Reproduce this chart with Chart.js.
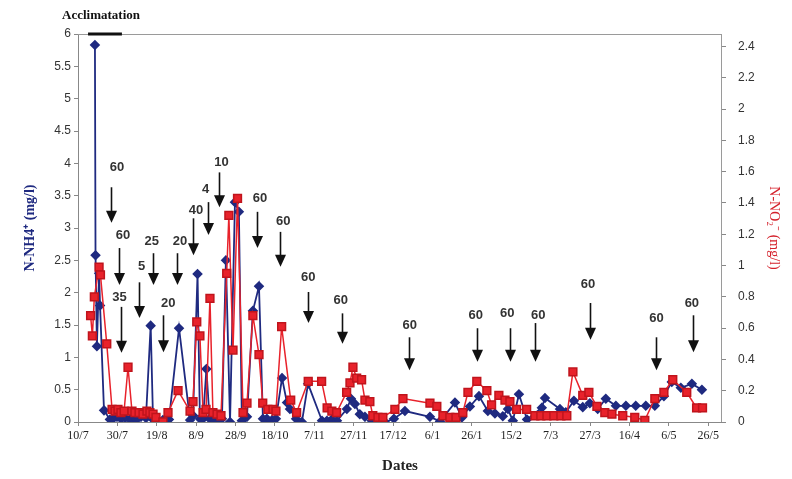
<!DOCTYPE html>
<html lang="en">
<head>
  <meta charset="UTF-8">
  <title>N-NH4+ and N-NO2- over time</title>
  <script src="https://cdn.jsdelivr.net/npm/chart.js@4.4.1/dist/chart.umd.min.js"></script>
  <style>
    body { margin: 0; background: #fff; }
    #wrap { width: 792px; height: 479px; }
  </style>
</head>
<body>
  <div id="wrap"><canvas id="chart" width="792" height="479"></canvas></div>
  <script>
    // days counted from 10/7
    const xTickDays = [0, 20, 40, 60, 80, 100, 120, 140, 160, 180, 200, 220, 240, 260, 280, 300, 320];
    const xTickLabels = ['10/7', '30/7', '19/8', '8/9', '28/9', '18/10', '7/11', '27/11', '17/12', '6/1', '26/1', '15/2', '7/3', '27/3', '16/4', '6/5', '26/5'];
    const rightTicks = [0, 0.2, 0.4, 0.6, 0.8, 1, 1.2, 1.4, 1.6, 1.8, 2, 2.2, 2.4];

    const nh4Days = [8.6, 8.9, 9.6, 10.7, 11.2, 13.2, 16.2, 17.8, 19.8, 21.8, 23.9, 26.4, 27.9, 29.9, 32.0,
      34.5, 36.9, 38.1, 39.6, 43.1, 46.2, 51.3, 56.9, 58.4, 60.7, 61.9, 63.5, 65.2, 66.8, 68.5,
      71.1, 73.1, 75.1, 77.2, 79.7, 81.7, 83.2, 85.8, 88.8, 91.9, 93.9, 95.9, 98.5, 100.5, 103.6,
      106.1, 107.6, 110.7, 113.7, 116.8, 123.9, 126.4, 128.9, 131.5, 136.5, 138.6, 140.6, 143.1, 145.7, 149.2,
      152.3, 155.8, 160.4, 166.0, 178.7, 183.8, 191.4, 194.9, 199.0, 203.6, 208.1, 211.7, 215.7, 218.3, 220.8,
      223.9, 228.0, 235.5, 237.1, 244.7, 247.7, 251.8, 256.3, 259.9, 263.9, 268.0, 273.1, 278.2, 283.2, 288.3,
      292.9, 297.5, 301.5, 306.1, 311.7, 316.8];
    const nh4Values = [5.83, 2.58, 1.17, 2.3, 1.8, 0.18, 0.04, 0.05, 0.08, 0.05, 0.06, 0.04, 0.05, 0.04, 0.08,
      0.06, 1.49, 0.04, 0.05, 0.03, 0.04, 1.45, 0.03, 0.1, 2.29, 0.05, 0.05, 0.82, 0.05, 0.04,
      0.03, 0.05, 2.5, 0.0, 3.4, 3.25, 0.02, 0.08, 1.72, 2.1, 0.05, 0.05, 0.03, 0.05, 0.68,
      0.3, 0.2, 0.05, 0.0, 0.59, 0.02, 0.02, 0.04, 0.02, 0.2, 0.36, 0.28, 0.12, 0.08, 0.02,
      0.01, 0.0, 0.05, 0.17, 0.08, 0.01, 0.3, 0.07, 0.24, 0.4, 0.17, 0.13, 0.09, 0.2, 0.02,
      0.43, 0.04, 0.22, 0.37, 0.2, 0.15, 0.33, 0.23, 0.29, 0.2, 0.36, 0.25, 0.25, 0.25, 0.25,
      0.25, 0.4, 0.62, 0.53, 0.59, 0.5];

    const no2Days = [6.4, 7.3, 8.3, 10.7, 11.4, 14.6, 17.3, 18.8, 20.3, 21.8, 23.4, 25.4, 27.4, 28.9, 31.0,
      33.0, 35.0, 36.5, 38.1, 39.6, 43.1, 45.7, 50.8, 56.9, 58.4, 60.3, 61.9, 63.5, 65.0, 67.0,
      68.5, 70.6, 72.6, 75.5, 76.6, 78.7, 81.0, 83.8, 85.8, 88.8, 91.9, 93.8, 96.4, 99.0, 100.5,
      103.4, 108.0, 111.0, 116.9, 123.7, 126.5, 128.9, 131.3, 136.4, 138.1, 139.6, 141.5, 144.0, 145.7, 148.2,
      149.7, 152.3, 154.8, 160.9, 165.0, 178.7, 182.2, 185.3, 188.8, 191.9, 195.4, 198.0, 202.5, 207.6, 210.0,
      213.7, 216.8, 219.3, 222.7, 227.8, 232.0, 235.0, 238.1, 241.6, 245.2, 248.2, 251.3, 256.3, 259.4, 263.5,
      267.5, 271.1, 276.6, 282.7, 287.8, 292.9, 297.5, 302.0, 309.1, 314.1, 317.1];
    const no2Values = [0.68, 0.55, 0.80, 0.99, 0.94, 0.50, 0.08, 0.07, 0.08, 0.06, 0.07, 0.35, 0.07, 0.06, 0.06,
      0.05, 0.07, 0.06, 0.05, 0.03, 0.0, 0.06, 0.20, 0.07, 0.13, 0.64, 0.55, 0.06, 0.08, 0.79,
      0.06, 0.05, 0.04, 0.95, 1.32, 0.46, 1.43, 0.06, 0.12, 0.68, 0.43, 0.12, 0.08, 0.08, 0.07,
      0.61, 0.14, 0.06, 0.26, 0.26, 0.09, 0.07, 0.06, 0.19, 0.25, 0.35, 0.28, 0.27, 0.14, 0.13,
      0.04, 0.03, 0.03, 0.08, 0.15, 0.12, 0.10, 0.04, 0.03, 0.03, 0.06, 0.19, 0.26, 0.20, 0.11,
      0.17, 0.14, 0.13, 0.08, 0.08, 0.04, 0.04, 0.04, 0.04, 0.04, 0.04, 0.32, 0.17, 0.19, 0.10,
      0.06, 0.05, 0.04, 0.03, 0.01, 0.15, 0.19, 0.27, 0.19, 0.09, 0.09];

    // dosing arrows (left axis units)
    const arrowLabels = ['60', '60', '35', '5', '25', '20', '20', '40', '4', '10', '60', '60', '60', '60', '60', '60', '60', '60', '60', '60', '60'];
    const arrowDays = [17.0, 20.7, 21.8, 31.0, 38.2, 43.0, 50.1, 58.5, 65.8, 71.7, 90.7, 102.5, 116.6, 133.9, 168.2, 202.7, 219.6, 232.0, 259.9, 293.4, 312.3];
    const arrowTops = [3.63, 2.69, 1.78, 2.16, 2.61, 1.65, 2.61, 3.15, 3.40, 3.86, 3.25, 2.94, 2.01, 1.68, 1.31, 1.45, 1.45, 1.53, 1.84, 1.31, 1.65];
    const arrowTips = [3.08, 2.12, 1.07, 1.61, 2.12, 1.08, 2.12, 2.58, 2.89, 3.32, 2.69, 2.40, 1.53, 1.21, 0.80, 0.93, 0.93, 0.93, 1.27, 0.80, 1.08];
    const labelDays = [19.8, 22.9, 21.1, 32.3, 37.4, 45.8, 51.8, 59.9, 64.8, 72.9, 92.4, 104.2, 116.9, 133.4, 168.5, 202.0, 217.9, 233.7, 259.0, 293.7, 311.7];
    const labelY = [3.94, 2.89, 1.92, 2.40, 2.80, 1.84, 2.80, 3.27, 3.60, 4.01, 3.46, 3.10, 2.24, 1.88, 1.50, 1.65, 1.68, 1.65, 2.12, 1.60, 1.84];
    const acclimDays = [5.1, 22.3];

    const navy = '#1f2a80';
    const red = '#e8222b';

    const annotate = {
      id: 'annotate',
      beforeDatasetsDraw(chart) {
        const { ctx, chartArea: a } = chart;
        ctx.save();
        ctx.strokeStyle = '#9a9a9a';
        ctx.lineWidth = 1;
        ctx.beginPath();
        ctx.moveTo(a.left, a.top + 0.5);
        ctx.lineTo(a.right, a.top + 0.5);
        ctx.moveTo(a.right - 0.5, a.top);
        ctx.lineTo(a.right - 0.5, a.bottom);
        ctx.stroke();
        ctx.restore();
      },
      afterDatasetsDraw(chart) {
        const { ctx, scales: { x, y }, chartArea: a } = chart;
        ctx.save();
        // acclimatation period
        ctx.strokeStyle = '#111';
        ctx.lineWidth = 3;
        ctx.beginPath();
        ctx.moveTo(x.getPixelForValue(acclimDays[0]), a.top);
        ctx.lineTo(x.getPixelForValue(acclimDays[1]), a.top);
        ctx.stroke();
        ctx.fillStyle = '#111';
        ctx.font = 'bold 13px "Liberation Serif"';
        ctx.textAlign = 'left';
        ctx.textBaseline = 'middle';
        ctx.fillText('Acclimatation', a.left - 16, a.top - 18);

        ctx.font = 'bold 13px "Liberation Sans"';
        ctx.textAlign = 'center';
        ctx.fillStyle = '#222';
        ctx.strokeStyle = '#111';
        ctx.lineWidth = 1.6;
        arrowDays.forEach((d, i) => {
          const px = Math.round(x.getPixelForValue(d)) + 0.5;
          const top = y.getPixelForValue(arrowTops[i]);
          const tip = y.getPixelForValue(arrowTips[i]);
          ctx.beginPath();
          ctx.moveTo(px, top);
          ctx.lineTo(px, tip - 10);
          ctx.stroke();
          ctx.beginPath();
          ctx.moveTo(px - 5.5, tip - 12);
          ctx.lineTo(px + 5.5, tip - 12);
          ctx.lineTo(px, tip);
          ctx.closePath();
          ctx.fillStyle = '#111';
          ctx.fill();
          ctx.fillStyle = '#333';
          ctx.fillText(arrowLabels[i], x.getPixelForValue(labelDays[i]), y.getPixelForValue(labelY[i]));
        });
        ctx.restore();
      }
    };

    new Chart(document.getElementById('chart'), {
      type: 'line',
      data: {
        datasets: [
          {
            label: 'N-NO2-',
            data: no2Days.map((d, i) => ({ x: d, y: no2Values[i] })),
            yAxisID: 'y1',
            borderColor: red,
            backgroundColor: red,
            pointBorderColor: '#c0141c',
            pointStyle: 'rect',
            pointRadius: 5.5,
            borderWidth: 1.5,
            tension: 0
          },
          {
            label: 'N-NH4+',
            data: nh4Days.map((d, i) => ({ x: d, y: nh4Values[i] })),
            yAxisID: 'y',
            borderColor: navy,
            backgroundColor: navy,
            pointStyle: 'rectRot',
            pointRadius: 4,
            borderWidth: 1.8,
            tension: 0
          }
        ]
      },
      options: {
        responsive: false,
        animation: false,
        devicePixelRatio: 1,
        layout: { padding: { top: 34, left: 0, right: 0, bottom: 0 } },
        plugins: { legend: { display: false }, tooltip: { enabled: false } },
        scales: {
          x: {
            type: 'linear',
            min: 0,
            max: 327,
            afterBuildTicks: s => { s.ticks = xTickDays.map(v => ({ value: v })); },
            afterFit: s => { s.height = 57; },
            grid: { drawOnChartArea: false, tickLength: 4, color: '#888' },
            border: { display: true, color: '#888' },
            ticks: {
              maxRotation: 0,
              autoSkip: false,
              padding: 3,
              color: '#222',
              font: { family: 'Liberation Serif', size: 12 },
              callback: (v, i) => xTickLabels[i]
            },
            title: {
              display: true,
              text: 'Dates',
              color: '#222',
              padding: { top: 0, bottom: 4 },
              font: { family: 'Liberation Serif', size: 15, weight: 'bold' }
            }
          },
          y: {
            position: 'left',
            min: 0,
            max: 6,
            ticks: {
              stepSize: 0.5,
              padding: 3,
              color: '#333',
              font: { family: 'Liberation Sans', size: 12 },
              callback: v => String(+v.toFixed(1))
            },
            afterFit: s => { s.width = 78; },
            grid: { drawOnChartArea: false, tickLength: 4, color: '#888' },
            border: { display: true, color: '#888' },
            title: {
              display: true,
              text: 'N-NH4⁺ (mg/l)',
              color: navy,
              padding: { top: 22, bottom: 0 },
              font: { family: 'Liberation Serif', size: 14, weight: 'bold' }
            }
          },
          y1: {
            position: 'right',
            min: 0,
            max: 2.48,
            afterBuildTicks: s => { s.ticks = rightTicks.map(v => ({ value: v })); },
            afterFit: s => { s.width = 70; },
            grid: { drawOnChartArea: false, tickLength: 4, color: '#888' },
            border: { display: false },
            ticks: {
              padding: 12,
              color: '#333',
              font: { family: 'Liberation Sans', size: 12 },
              callback: v => String(+v.toFixed(1))
            },
            title: {
              display: true,
              text: 'N-NO₂⁻ (mg/l)',
              color: '#d4202a',
              padding: { top: 10, bottom: 0 },
              font: { family: 'Liberation Serif', size: 14 }
            }
          }
        }
      },
      plugins: [annotate]
    });
  </script>
</body>
</html>
